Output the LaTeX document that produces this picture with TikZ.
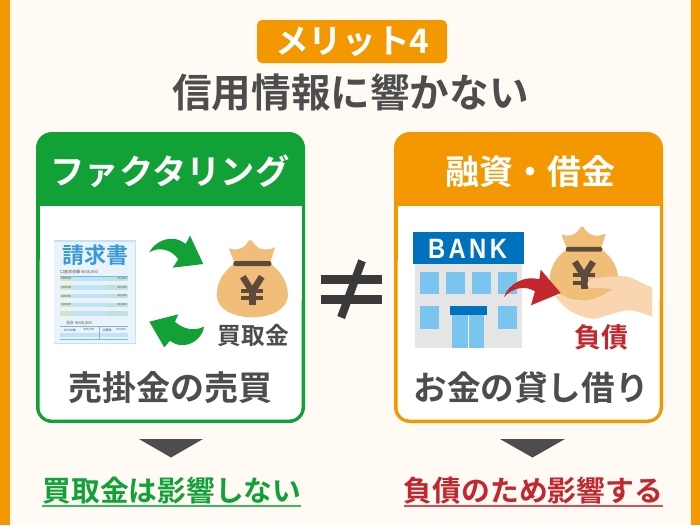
\documentclass[tikz,border=0pt]{standalone}
\usepackage{fontspec}
\newfontfamily\jp[BoldFont={Noto Sans CJK JP Bold}]{Noto Sans CJK JP}
\newfontfamily\lat{Liberation Sans}
\definecolor{bgc}{HTML}{FFFAF3}
\definecolor{orangec}{HTML}{F39800}
\definecolor{greenc}{HTML}{12A137}
\definecolor{redc}{HTML}{C1272D}
\definecolor{textc}{HTML}{4D4D4D}
\definecolor{bagc}{HTML}{F0BE78}
\definecolor{brownc}{HTML}{5E4A3A}
\definecolor{handc}{HTML}{F9D5B0}
\definecolor{winc}{HTML}{7AC4F0}
\definecolor{bankc}{HTML}{0071BC}
\definecolor{sheetc}{HTML}{EAF3FA}
\definecolor{invc}{HTML}{3A9AD9}
\definecolor{rowb}{HTML}{BFE3F7}
\definecolor{rowg}{HTML}{CFE6C8}
\definecolor{rowt}{HTML}{BFE2DA}
\definecolor{linec}{HTML}{6DBCE8}
\tikzset{
  txt/.style={inner sep=0pt,font=\jp\bfseries},
  tiny/.style={inner sep=0pt,font=\jp\fontsize{4}{4}\selectfont,text=textc},
  pics/moneybag/.style={code={
    \fill[bagc] (-18,0) .. controls (-28,7) and (-35.6,18) .. (-35.6,31)
       .. controls (-35.6,46) and (-18,53.6) .. (0,53.6)
       .. controls (18,53.6) and (35.6,46) .. (35.6,31)
       .. controls (35.6,18) and (28,7) .. (18,0) -- cycle;
    \fill[bagc] (-17.5,0) .. controls (-19,-5) and (-22,-10) .. (-23.3,-15.4)
       .. controls (-17,-13) and (-9,-14) .. (-5,-21)
       .. controls (-3,-24.5) and (-1,-24.5) .. (1,-21)
       .. controls (6,-13) and (15,-13) .. (22.7,-16.4)
       .. controls (21,-10) and (19,-5) .. (17.5,0) -- cycle;
    \fill[brownc,rounded corners=1.5] (-19,-2.5) rectangle (19,2.5);
    \draw[brownc,line width=6.5] (-9.5,13) -- (0,28) -- (9.5,13);
    \draw[brownc,line width=7] (0,26) -- (0,41.3);
    \draw[brownc,line width=4] (-11,27) -- (11,27) (-11,34.6) -- (11,34.6);
  }}
}
\begin{document}
\begin{tikzpicture}[x=1pt,y=-1pt]
\useasboundingbox (0,0) rectangle (700,525);
\fill[bgc] (0,0) rectangle (700,525);
\fill[orangec] (0,0) rectangle (10,525);
\fill[orangec] (691,0) rectangle (700,525);
% heading
\fill[orangec,rounded corners=5] (257,20) rectangle (447,63);
\node[txt,text=white,font=\jp\bfseries\fontsize{33.7}{33}\selectfont] (badge) at (352.5,42) {メリット4};
\node[txt,text=textc,font=\jp\bfseries\fontsize{39.6}{39}\selectfont] (title) at (350.5,92.5) {信用情報に響かない};
% cards
\fill[greenc,rounded corners=16] (36,132) rectangle (305,423);
\fill[white] (39.5,206) rectangle (301.5,300);
\fill[white,rounded corners=12] (39.5,250) rectangle (301.5,419.5);
\fill[orangec,rounded corners=16] (394,132) rectangle (663,423);
\fill[white] (397.5,206) rectangle (659.5,300);
\fill[white,rounded corners=12] (397.5,250) rectangle (659.5,419.5);
\node[txt,text=white,font=\jp\bfseries\fontsize{34.3}{34}\selectfont] (hl) at (170,171) {ファクタリング};
\node[txt,text=white,font=\jp\bfseries\fontsize{34}{34}\selectfont] (hr) at (530,172) {融資・借金};
\node[txt,text=textc,font=\jp\bfseries\fontsize{34}{33}\selectfont] (cl) at (170.3,388) {売掛金の売買};
\node[txt,text=textc,font=\jp\bfseries\fontsize{33.6}{33}\selectfont] (cr) at (531,388) {お金の貸し借り};
% invoice
\fill[sheetc] (53.5,239.5) rectangle (136,344);
\fill[rowb] (53.5,239.5) rectangle (136,242);
\fill[rowb] (134.5,239.5) rectangle (136,344);
\fill[rowb] (53.5,342.5) rectangle (136,344);
\node[txt,text=invc,font=\jp\bfseries\fontsize{22}{22}\selectfont] (inv) at (95,255.5) {請求書};
\node[tiny,anchor=west] (inv1) at (60,272.3) {口座求金額\ ¥000,000};
\draw[linec,line width=.8] (59.5,276.4) -- (128,276.4);
\foreach \y/\g in {278.7/rowg,287.3/rowg,296/rowg,304.7/rowg}{
  \fill[rowb] (59.5,\y-2.2) rectangle (128,\y+2.2);
  \fill[\g] (59.5,\y-2.2) rectangle (73,\y+2.2);
  \fill[rowt] (107,\y-2.2) rectangle (128,\y+2.2);
  \node[tiny,anchor=west,font=\jp\fontsize{3}{3}\selectfont] at (61,\y) {000000};
  \node[tiny,anchor=east,font=\jp\fontsize{3}{3}\selectfont] at (127,\y) {¥0,000};
}
\fill[rowb] (59.5,310.5) rectangle (128,315.5);
\fill[rowg] (59.5,310.5) rectangle (73,315.5);
\fill[rowt] (107,310.5) rectangle (128,315.5);
\node[tiny] (inv2) at (79,323) {合計\ ¥000,000};
\fill[rowb] (59.5,332.5) rectangle (128,337);
\draw[linec,line width=.8] (59.5,326.7) -- (128,326.7) (59.5,339.3) -- (128,339.3) (99.7,326.7) -- (99.7,339.3);
\node[tiny,font=\jp\fontsize{3}{3}\selectfont] at (70,330) {10\%対象};
\node[tiny,font=\jp\fontsize{3}{3}\selectfont] at (89,330) {¥00,000};
\node[tiny,font=\jp\fontsize{3}{3}\selectfont] at (107,330) {消費税};
\node[tiny,font=\jp\fontsize{3}{3}\selectfont] at (121,330) {¥0,000};
% green arrows
\fill[greenc] (149.3,252.3) .. controls (155,241) and (172,233) .. (185.7,244) -- (190,235.7) -- (203.3,264) -- (172.7,267.7) -- (178.3,259.3)
   .. controls (172,250) and (160,246) .. (149.3,252.3) -- cycle;
\fill[greenc] (204,326.7) .. controls (202,342) and (183,351) .. (170,340.7) -- (164.3,347.3) -- (149.3,321.7) -- (178.3,314.3) -- (175,321.7)
   .. controls (184,330) and (195,331) .. (204,326.7) -- cycle;
% left bag
\pic at (252.3,263.7) {moneybag};
\node[txt,text=textc,font=\jp\bfseries\fontsize{23.7}{24}\selectfont] (kk) at (253.5,335.7) {買取金};
% not equal
\fill[textc!75!black] (321,275) rectangle (382.3,284);
\fill[textc!75!black] (321,294.7) rectangle (382.3,303.7);
\fill[textc!75!black] (358.3,259.3) -- (365.7,262.3) -- (345,319) -- (337.3,316) -- cycle;
% bank
\fill[black!10] (415,264) rectangle (522,348);
\fill[bankc] (413,232) rectangle (524,264.3);
\node[inner sep=0pt,text=white,font=\lat\bfseries\fontsize{28}{28}\selectfont] (bank) at (467.5,248.5) {\scalebox{.85}[1]{B\kern4pt A\kern4pt N\kern4pt K}};
\foreach \a/\b in {420/439,446/465,472/491,497.7/517}
  \fill[winc] (\a,271.7) rectangle (\b,294.3);
\foreach \a/\b in {420/439,497.7/517}
  \fill[winc] (\a,306.3) rectangle (\b,329);
\fill[winc] (452.3,315) rectangle (484.3,348);
\fill[white] (468,315) rectangle (468.8,348);
\fill[bankc] (449.7,305.7) rectangle (487.3,315);
% right bag and hand
\pic[scale=.96] at (584,249.3) {moneybag};
\fill[handc] (555,296) .. controls (562,304) and (566,309) .. (571.7,312) .. controls (580,316) and (588,319) .. (595,318.7)
   .. controls (608,316) and (620,310) .. (630,310.3) .. controls (638,311) and (645,314) .. (652,316.3)
   -- (652,287.7) .. controls (643,284) and (636,279) .. (628.3,277) .. controls (622,275) and (605,277) .. (593.3,278.7)
   .. controls (589,279.5) and (587.3,281) .. (587.3,283.7) .. controls (587.3,286.5) and (589,288) .. (591.7,288)
   -- (612.7,288.7) .. controls (605,295) and (592,301) .. (580,301) .. controls (573,301) and (568,298) .. (563.3,295.3) -- cycle;
\fill[redc] (504,297) .. controls (508,284) and (525,275) .. (539.3,279.3) -- (540.7,269.7) -- (560.7,293) -- (531,305.3) -- (535,291.3)
   .. controls (525,285) and (512,288) .. (504,297) -- cycle;
\node[txt,text=redc,font=\jp\bfseries\fontsize{27}{27}\selectfont] (fs) at (601.8,337.7) {負債};
% triangles
\fill[textc] (139,439) -- (203,439) -- (171,457.5) -- cycle;
\fill[textc] (500,439) -- (565,439) -- (532.5,457.5) -- cycle;
% results
\node[txt,text=greenc,font=\jp\bfseries\fontsize{28.7}{29}\selectfont] (rl) at (172,491) {買取金は影響しない};
\node[txt,text=redc,font=\jp\bfseries\fontsize{28.8}{29}\selectfont] (rr) at (533.5,491) {負債のため影響する};
\draw[greenc!80!white,line width=2] (42,505.5) -- (301,505.5);
\draw[redc!80!white,line width=2] (404,505.5) -- (663,505.5);
\end{tikzpicture}
\end{document}
